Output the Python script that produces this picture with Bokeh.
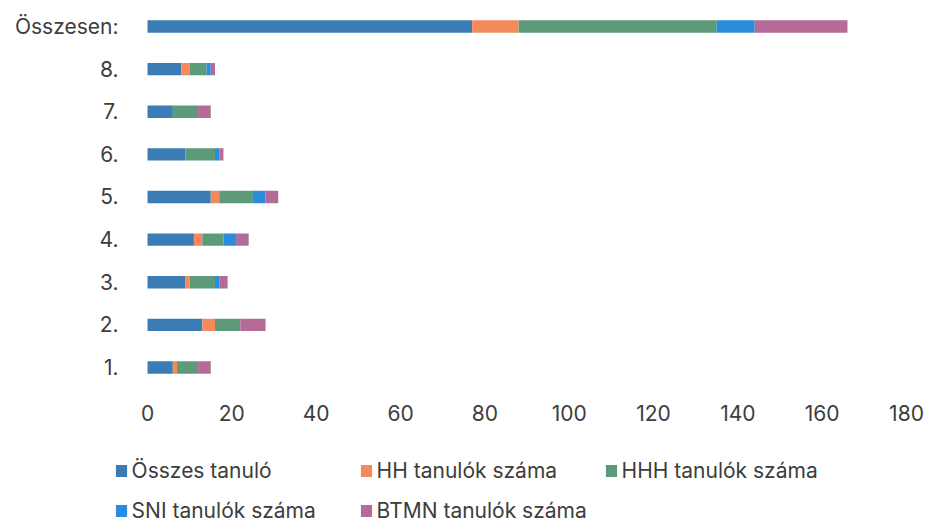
from bokeh.plotting import figure
from bokeh.models import Range1d, FixedTicker, Legend, LegendItem, ColumnDataSource
from bokeh.layouts import column
from bokeh.embed import file_html
from bokeh.resources import INLINE

categories = ["1.", "2.", "3.", "4.", "5.", "6.", "7.", "8.", "Összesen:"]
osszes = [6, 13, 9, 11, 15, 9, 6, 8, 77]
hh = [1, 3, 1, 2, 2, 0, 0, 2, 11]
hhh = [5, 6, 6, 5, 8, 7, 6, 4, 47]
sni = [0, 0, 1, 3, 3, 1, 0, 1, 9]
btmn = [3, 6, 2, 3, 3, 1, 3, 1, 22]
series_names = ["Összes tanuló", "HH tanulók száma", "HHH tanulók száma",
                "SNI tanulók száma", "BTMN tanulók száma"]
x_ticks = [0, 20, 40, 60, 80, 100, 120, 140, 160, 180]

colors = ["#3a7cb3", "#f4895c", "#5c9a7a", "#2b8bdc", "#b56b98"]
FONT = "Inter"
FS = "21px"
TXT = "#3d3d3d"

ypos = list(range(1, len(categories) + 1))
source = ColumnDataSource(dict(y=ypos, s0=osszes, s1=hh, s2=hhh, s3=sni, s4=btmn))

W = 927
H1, H2 = 445, 80
p = figure(width=W, height=H1, output_backend="svg", toolbar_location=None,
           x_range=Range1d(-7.83, 184.98), y_range=Range1d(0.507, 9.61),
           min_border_left=114, min_border_right=0, min_border_top=0,
           min_border_bottom=H1 - 388)
p.outline_line_color = None
p.xgrid.visible = False
p.ygrid.visible = False

rs = p.hbar_stack(["s0", "s1", "s2", "s3", "s4"], y="y", height=0.29,
                  color=colors, line_color=None, source=source)

p.xaxis.ticker = FixedTicker(ticks=x_ticks)
p.yaxis.ticker = FixedTicker(ticks=ypos)
p.yaxis.major_label_overrides = {float(i): c for i, c in zip(ypos, categories)}
for ax in (p.xaxis[0], p.yaxis[0]):
    ax.axis_line_color = None
    ax.major_tick_line_color = None
    ax.minor_tick_line_color = None
    ax.major_tick_out = 0
    ax.major_tick_in = 0
    ax.major_label_text_font = FONT
    ax.major_label_text_font_size = FS
    ax.major_label_text_color = TXT
p.xaxis.major_label_standoff = 16
p.yaxis.major_label_standoff = -4

# legend panel: a second figure whose frame (aligned with the chart's) holds the key
p2 = figure(width=W, height=H2, output_backend="svg", toolbar_location=None,
            x_range=Range1d(0, 1), y_range=Range1d(0, 1),
            x_axis_type=None, y_axis_type=None,
            min_border=0)
p2.outline_line_color = None
# key swatches: one off-view bar per series so the legend can draw its glyph
key_src = ColumnDataSource(dict(y=[-10], right=[0]))
keys = [p2.hbar(y="y", right="right", height=0.5, color=c, line_color=None,
                source=key_src) for c in colors]


def make_legend(idx, loc):
    items = [LegendItem(label=series_names[i], renderers=[keys[i]]) for i in idx]
    return Legend(items=items, location=loc, orientation="horizontal",
                  padding=0, margin=0, spacing=22, label_width=205,
                  glyph_width=14, glyph_height=15, label_standoff=4,
                  label_text_font=FONT, label_text_font_size=FS,
                  label_text_color=TXT, border_line_color=None,
                  background_fill_alpha=0)


p2.add_layout(make_legend([0, 1, 2], (-0.4, 42.5)))
p2.add_layout(make_legend([3, 4], (-0.4, 2)))

layout = column(p, p2, spacing=0)
open("out.html", "w").write(file_html(layout, INLINE))
